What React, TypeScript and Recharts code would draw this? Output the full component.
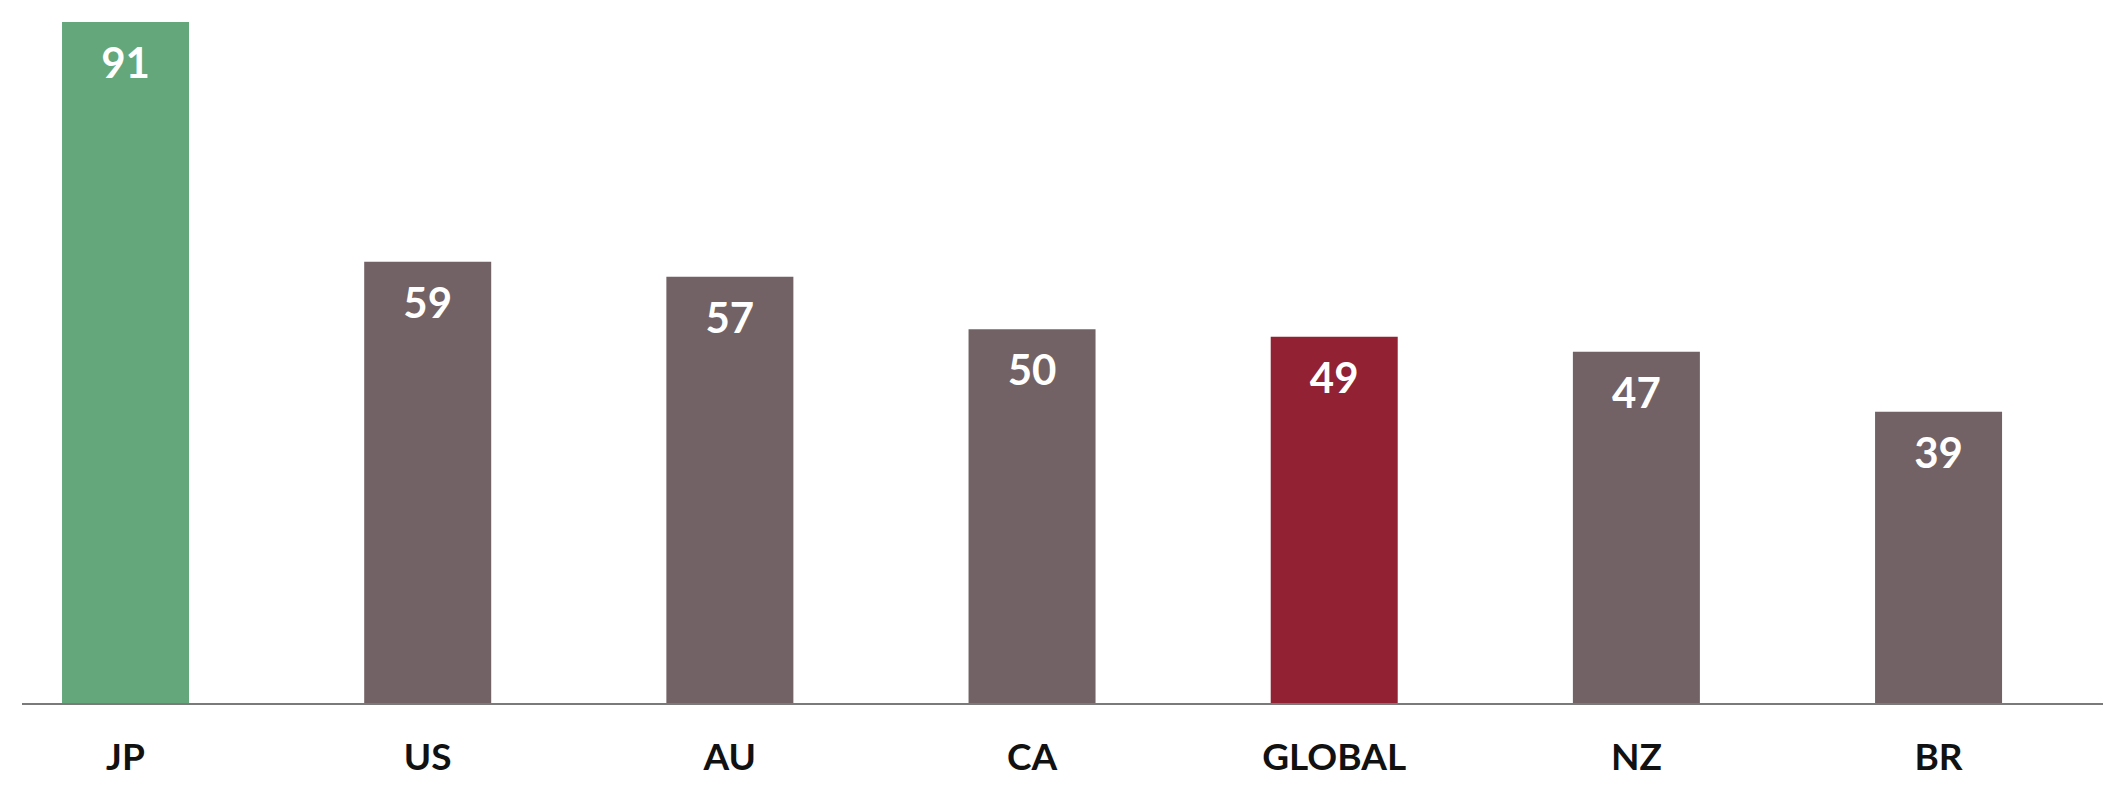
import React from "react";
import { BarChart, Bar, XAxis, YAxis, Cell, LabelList } from "recharts";

const categories = ["JP", "US", "AU", "CA", "GLOBAL", "NZ", "BR"];
const values = [91, 59, 57, 50, 49, 47, 39];

const GREEN = "#63a77b";
const BROWN = "#726265";
const RED = "#912133";
const barColors = [GREEN, BROWN, BROWN, BROWN, RED, BROWN, BROWN];

const data = categories.map((c, i) => ({ name: c, value: values[i] }));

const FONT = "Lato, 'Open Sans', sans-serif";

export default function App() {
  return (
    <div style={{ position: "absolute", left: 0, top: 0, width: 2120, height: 798, background: "#fff" }}>
      <BarChart
        width={2120}
        height={798}
        data={data}
        margin={{ top: 22, right: 17, bottom: 34, left: 22 }}
        barCategoryGap="29%"
      >
        <XAxis
          dataKey="name"
          height={60}
          padding={{ left: -47.6, right: 13.4 }}
          axisLine={{ stroke: "#7a7a7a", strokeWidth: 2 }}
          tickLine={false}
          tickSize={0}
          tickMargin={40}
          interval={0}
          tick={{ fill: "#111", fontSize: 37, fontWeight: 700, fontFamily: FONT }}
        />
        <YAxis hide domain={[0, 91]} />
        <Bar dataKey="value" isAnimationActive={false}>
          {data.map((d, i) => (
            <Cell key={d.name} fill={barColors[i]} />
          ))}
          <LabelList
            dataKey="value"
            position="insideTop"
            offset={26}
            fill="#fff"
            fontSize={42}
            fontWeight={700}
            fontFamily={FONT}
          />
        </Bar>
      </BarChart>
    </div>
  );
}
